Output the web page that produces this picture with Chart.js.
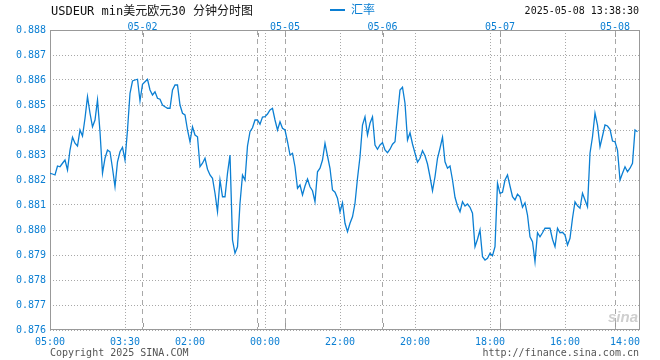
<!DOCTYPE html>
<html><head><meta charset="utf-8">
<script src="https://cdn.jsdelivr.net/npm/chart.js@4.4.1/dist/chart.umd.min.js"></script>
<style>
html,body{margin:0;padding:0;background:#fff;overflow:hidden;}
#wrap{position:relative;width:660px;height:360px;}
canvas{position:absolute;left:0;top:0;}
.t{position:absolute;white-space:pre;font-family:"DejaVu Sans Mono","Noto Sans CJK SC",monospace;}
</style></head><body>
<div id="wrap">
<canvas id="c" width="660" height="360"></canvas>
<div class="t" style="left:51px;top:4px;font-size:12px;line-height:14px;color:#111">USDEUR min美元欧元30</div>
<div class="t" style="left:193px;top:4px;font-size:12px;line-height:14px;color:#111">分钟分时图</div>
<div style="position:absolute;left:330px;top:9px;width:15px;height:2px;background:#0b7fd3"></div>
<div class="t" style="left:351px;top:3px;font-size:12px;line-height:14px;color:#0b7fd3">汇率</div>
<div class="t" style="right:21px;top:5px;font-size:10px;line-height:12px;color:#111">2025-05-08 13:38:30</div>
<div class="t" style="left:50px;top:347px;font-size:10px;line-height:12px;color:#555">Copyright 2025 SINA.COM</div>
<div class="t" style="right:21px;top:347px;font-size:10px;line-height:12px;color:#555">http://finance.sina.com.cn</div>
<div style="position:absolute;right:22px;top:309px;font:italic bold 15px/16px 'Liberation Sans',sans-serif;color:#cfcfcf;">sina</div>
</div>
<script>
// USD/EUR rate, evenly spaced points across the session
const rates = [
0.88227,0.88224,0.88220,0.88256,0.88253,0.88267,0.88280,0.88240,0.88320,0.88371,
0.88347,0.88336,0.88400,0.88376,0.88447,0.88533,0.88467,0.88413,0.88440,0.88520,
0.88393,0.88227,0.88287,0.88320,0.88313,0.88247,0.88173,0.88273,0.88313,0.88331,
0.88280,0.88400,0.88547,0.88596,0.88600,0.88603,0.88517,0.88583,0.88593,0.88603,
0.88560,0.88540,0.88553,0.88527,0.88523,0.88500,0.88493,0.88487,0.88487,0.88560,
0.88580,0.88580,0.88500,0.88467,0.88460,0.88400,0.88353,0.88413,0.88380,0.88373,
0.88253,0.88267,0.88287,0.88243,0.88220,0.88207,0.88147,0.88073,0.88200,0.88133,
0.88133,0.88227,0.88300,0.87960,0.87907,0.87933,0.88107,
0.88220,0.88200,0.88336,0.88393,0.88409,0.88440,0.88440,0.88423,0.88452,0.88453,
0.88464,0.88480,0.88487,0.88440,0.88400,0.88433,0.88407,0.88400,0.88353,0.88300,
0.88307,0.88253,0.88167,0.88180,0.88140,0.88176,0.88204,0.88173,0.88157,0.88113,
0.88233,0.88247,0.88280,0.88347,0.88296,0.88247,0.88160,0.88151,0.88127,0.88073,
0.88109,0.88027,0.87993,0.88027,0.88053,0.88107,0.88207,0.88293,0.88420,0.88453,
0.88380,0.88427,0.88453,0.88340,0.88323,0.88340,0.88349,0.88320,0.88309,0.88323,
0.88343,0.88353,0.88460,0.88560,0.88571,0.88507,0.88360,0.88389,0.88344,0.88307,
0.88271,0.88287,0.88317,0.88297,0.88264,0.88213,
0.88157,0.88213,0.88287,0.88327,0.88371,0.88273,0.88247,0.88256,0.88200,0.88131,
0.88096,0.88073,0.88113,0.88096,0.88104,0.88091,0.88067,0.87933,0.87963,0.88000,
0.87893,0.87880,0.87887,0.87907,0.87897,0.87933,0.88187,0.88147,0.88151,0.88200,
0.88220,0.88176,0.88133,0.88120,0.88143,0.88133,0.88091,0.88109,0.88060,0.87973,
0.87953,0.87873,0.87989,0.87973,0.87989,0.88007,0.88007,0.88007,0.87963,0.87933,
0.88007,0.87989,0.87991,0.87980,0.87940,0.87967,0.88047,0.88113,0.88097,0.88087,
0.88147,0.88120,0.88093,0.88307,0.88373,0.88467,0.88420,0.88333,0.88376,0.88420,
0.88416,0.88403,0.88356,0.88353,0.88320,0.88200,0.88227,0.88253,0.88233,0.88247,
0.88267,0.88400,0.88393
];
const axisSlots = 236;
const timeLabels = ['05:00','03:30','02:00','00:00','22:00','20:00','18:00','16:00','14:00'];
const timeTickIdx = [0,30,56,86,116,146,176,206,230];
const dayLabels = ['05-02','','05-05','05-06','05-07','05-08'];
const dayTickIdx = [37,83,94,133,180,226];
const yTicks = [0.876,0.877,0.878,0.879,0.880,0.881,0.882,0.883,0.884,0.885,0.886,0.887,0.888];

const BLUE = '#0b7fd3';
const GRIDC = '#a8a8a8';
const MONO = {family:'"DejaVu Sans Mono", monospace', size:10};

const points = rates.map((v, i) => ({x: i, y: v}));

const frame = {
  id: 'frame',
  beforeDatasetsDraw(chart) {
    const {ctx, chartArea: a, scales} = chart;
    ctx.save();
    ctx.strokeStyle = '#999';
    ctx.lineWidth = 1;
    ctx.strokeRect(a.left + 0.5, a.top + 0.5, a.right - a.left - 1, a.bottom - a.top - 1);
    ctx.beginPath();
    dayTickIdx.forEach(v => {
      const x = Math.round(scales.xTop.getPixelForValue(v)) + 0.5;
      ctx.moveTo(x, a.top + 3); ctx.lineTo(x, a.top + 7);
      ctx.moveTo(x, a.bottom - 7); ctx.lineTo(x, a.bottom - 3);
    });
    ctx.stroke();
    ctx.restore();
  }
};

new Chart(document.getElementById('c'), {
  type: 'line',
  data: {datasets: [{label: '汇率', data: points, borderColor: BLUE, borderWidth: 1.3,
    pointRadius: 0, tension: 0, fill: false}]},
  options: {
    responsive: false, animation: false, devicePixelRatio: 1, events: [],
    layout: {padding: {left: 0, right: 20, top: 0, bottom: 0}},
    plugins: {legend: {display: false}, tooltip: {enabled: false}, title: {display: false}},
    scales: {
      x: {
        type: 'linear', position: 'bottom', min: 0, max: axisSlots,
        afterBuildTicks: s => { s.ticks = timeTickIdx.map(v => ({value: v})); },
        afterFit: s => { s.height = 30; },
        grid: {color: c => (c.index === 0 || c.index === timeTickIdx.length - 1) ? 'rgba(0,0,0,0)' : GRIDC,
               lineWidth: 1, drawTicks: false, borderDash: [1, 2]},
        border: {display: false, dash: [1, 2]},
        ticks: {padding: 6, color: BLUE, font: MONO, maxRotation: 0, autoSkip: false,
                callback: (v, i) => timeLabels[i]}
      },
      xTop: {
        type: 'linear', position: 'top', min: 0, max: axisSlots,
        afterBuildTicks: s => { s.ticks = dayTickIdx.map(v => ({value: v})); },
        afterFit: s => { s.height = 30; },
        grid: {color: GRIDC, lineWidth: 1, drawTicks: false, borderDash: [5, 4]},
        border: {display: false, dash: [5, 4]},
        ticks: {padding: -3, color: BLUE, font: MONO, maxRotation: 0, autoSkip: false,
                callback: (v, i) => dayLabels[i]}
      },
      y: {
        min: 0.876, max: 0.888,
        afterBuildTicks: s => { s.ticks = yTicks.map(v => ({value: v})); },
        afterFit: s => { s.width = 50; },
        grid: {color: GRIDC, lineWidth: 1, drawTicks: false, borderDash: [1, 2]},
        border: {display: false, dash: [1, 2]},
        ticks: {padding: 4, color: BLUE, font: MONO, autoSkip: false,
                callback: v => Number(v).toFixed(3)}
      }
    }
  },
  plugins: [frame]
});
</script>
</body></html>
